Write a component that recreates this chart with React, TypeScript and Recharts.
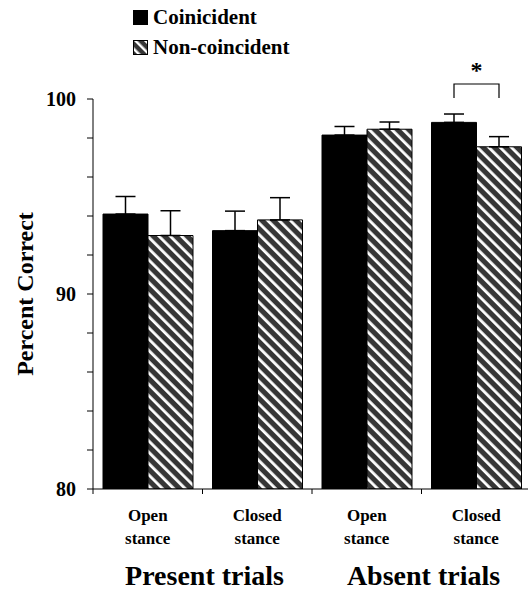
import { BarChart, Bar, XAxis, YAxis, ErrorBar, LabelList, Label } from 'recharts';

const trialTypes = ['Present trials', 'Absent trials'];
const stances = ['Open stance', 'Closed stance'];
const seriesNames = ['Coinicident', 'Non-coincident'];

// Percent correct, in order: present/open, present/closed, absent/open, absent/closed
const coincident = [94.1, 93.25, 98.15, 98.8];
const nonCoincident = [93.0, 93.8, 98.45, 97.55];
const coincidentErr = [0.9, 1.0, 0.44, 0.43];
const nonCoincidentErr = [1.27, 1.14, 0.37, 0.52];

const yTicks = [80, 82, 84, 86, 88, 90, 92, 94, 96, 98, 100];

// significance bracket between the two bars of the last category
const sigIndex = 3;
const sigMark = '*';

const data = coincident.map((c, i) => ({
  stance: stances[i % 2],
  coincident: c,
  nonCoincident: nonCoincident[i],
  cErr: [0, coincidentErr[i]],
  nErr: [0, nonCoincidentErr[i]],
}));

const FONT = '"Liberation Serif", "Times New Roman", serif';
const HATCH_DARK = '#363636';

const StanceTick = (props: any) => {
  const { x, y, payload } = props;
  const half = payload?.offset ?? 54.75;
  const i = payload?.index ?? props.index ?? 0;
  const words = String(payload.value).split(' ');
  return (
    <g fontFamily={FONT} fontWeight="bold" fill="#000">
      <line x1={x - half} x2={x - half} y1={y} y2={y + 5} stroke="#000" />
      <text x={x} y={y + 32} textAnchor="middle" fontSize={17}>{words[0]}</text>
      <text x={x} y={y + 55} textAnchor="middle" fontSize={17}>{words[1]}</text>
      {i % 2 === 1 && (
        <text x={x - half + 2} y={y + 96} textAnchor="middle" fontSize={28}>
          {trialTypes[(i - 1) / 2]}
        </text>
      )}
    </g>
  );
};

const SigBracket = (props: any) => {
  const { index } = props;
  if (index !== sigIndex) return null;
  const x = Number(props.x ?? props.viewBox?.x);
  const y = Number(props.y ?? props.viewBox?.y);
  const width = Number(props.width ?? props.viewBox?.width);
  const height = Number(props.height ?? props.viewBox?.height);
  const value = Number(props.value);
  const perUnit = height / (value - 80);
  const yOf = (v: number) => y + height - (v - 80) * perUnit;
  const x1 = x + width / 2;
  const x2 = x + width * 1.5;
  const top = yOf(100.77);
  const bottom = yOf(100.05);
  return (
    <g>
      <path d={`M${x1},${bottom} L${x1},${top} L${x2},${top} L${x2},${bottom}`} fill="none" stroke="#000" strokeWidth={1.2} />
      <text x={(x1 + x2) / 2} y={top - 6} textAnchor="middle" fontFamily={FONT} fontWeight="bold" fontSize={24}>
        {sigMark}
      </text>
    </g>
  );
};

const YLabel = (props: any) => {
  const vb = props.viewBox || {};
  const cy = (vb.y ?? 99) + (vb.height ?? 390) / 2;
  const x = 33;
  return (
    <text x={x} y={cy} transform={`rotate(-90, ${x}, ${cy})`} textAnchor="middle"
      fontFamily={FONT} fontWeight="bold" fontSize={24} fill="#000">
      Percent Correct
    </text>
  );
};

const LegendBox = () => (
  <div style={{ position: 'absolute', top: 2, left: 133, fontFamily: FONT, fontWeight: 'bold', fontSize: 21, color: '#000' }}>
    {seriesNames.map((name, i) => (
      <div key={name} style={{ display: 'flex', alignItems: 'center', height: 30, lineHeight: '30px', whiteSpace: 'nowrap' }}>
        <svg width={15} height={15} style={{ marginRight: 5, display: 'block' }}>
          <defs>
            <pattern id="hatchSmall" patternUnits="userSpaceOnUse" width={7} height={7} patternTransform="rotate(-45)">
              <rect width={7} height={7} fill={HATCH_DARK} />
              <rect width={2.5} height={7} fill="#fff" />
            </pattern>
          </defs>
          <rect x={0.5} y={0.5} width={14} height={14} fill={i === 0 ? '#000' : 'url(#hatchSmall)'} stroke="#000" />
        </svg>
        <span>{name}</span>
      </div>
    ))}
  </div>
);

export default function App() {
  return (
    <div style={{ position: 'absolute', left: 0, top: 0, width: 528, height: 591, overflow: 'hidden', background: '#fff' }}>
      <BarChart
        width={540}
        height={591}
        data={data}
        margin={{ top: 99, right: 9, bottom: 0, left: 0 }}
        barCategoryGap={10}
        barGap={0}
      >
        <defs>
          <pattern id="hatch" patternUnits="userSpaceOnUse" width={8} height={8} patternTransform="rotate(-45)">
            <rect width={8} height={8} fill={HATCH_DARK} />
            <rect width={2.8} height={8} fill="#fff" />
          </pattern>
        </defs>
        <XAxis
          dataKey="stance"
          height={102}
          tickSize={0}
          tickMargin={0}
          interval={0}
          tick={<StanceTick />}
          axisLine={{ stroke: '#000' }}
        />
        <YAxis
          width={93}
          domain={[80, 100]}
          ticks={yTicks}
          interval={0}
          allowDataOverflow
          tickSize={6}
          tickMargin={11}
          tickFormatter={(v: number) => (v % 10 === 0 ? String(v) : '')}
          tick={{ fontFamily: FONT, fontWeight: 'bold', fontSize: 20, fill: '#000' }}
          tickLine={{ stroke: '#000' }}
          axisLine={{ stroke: '#000' }}
        >
          <Label content={<YLabel />} />
        </YAxis>
        <Bar dataKey="coincident" name={seriesNames[0]} fill="#000" stroke="#000" strokeWidth={1} isAnimationActive={false}>
          <ErrorBar dataKey="cErr" width={10} stroke="#000" strokeWidth={1.5} />
          <LabelList dataKey="coincident" content={<SigBracket />} />
        </Bar>
        <Bar dataKey="nonCoincident" name={seriesNames[1]} fill="url(#hatch)" stroke="#000" strokeWidth={1} isAnimationActive={false}>
          <ErrorBar dataKey="nErr" width={10} stroke="#000" strokeWidth={1.5} />
        </Bar>
      </BarChart>
      <LegendBox />
    </div>
  );
}
